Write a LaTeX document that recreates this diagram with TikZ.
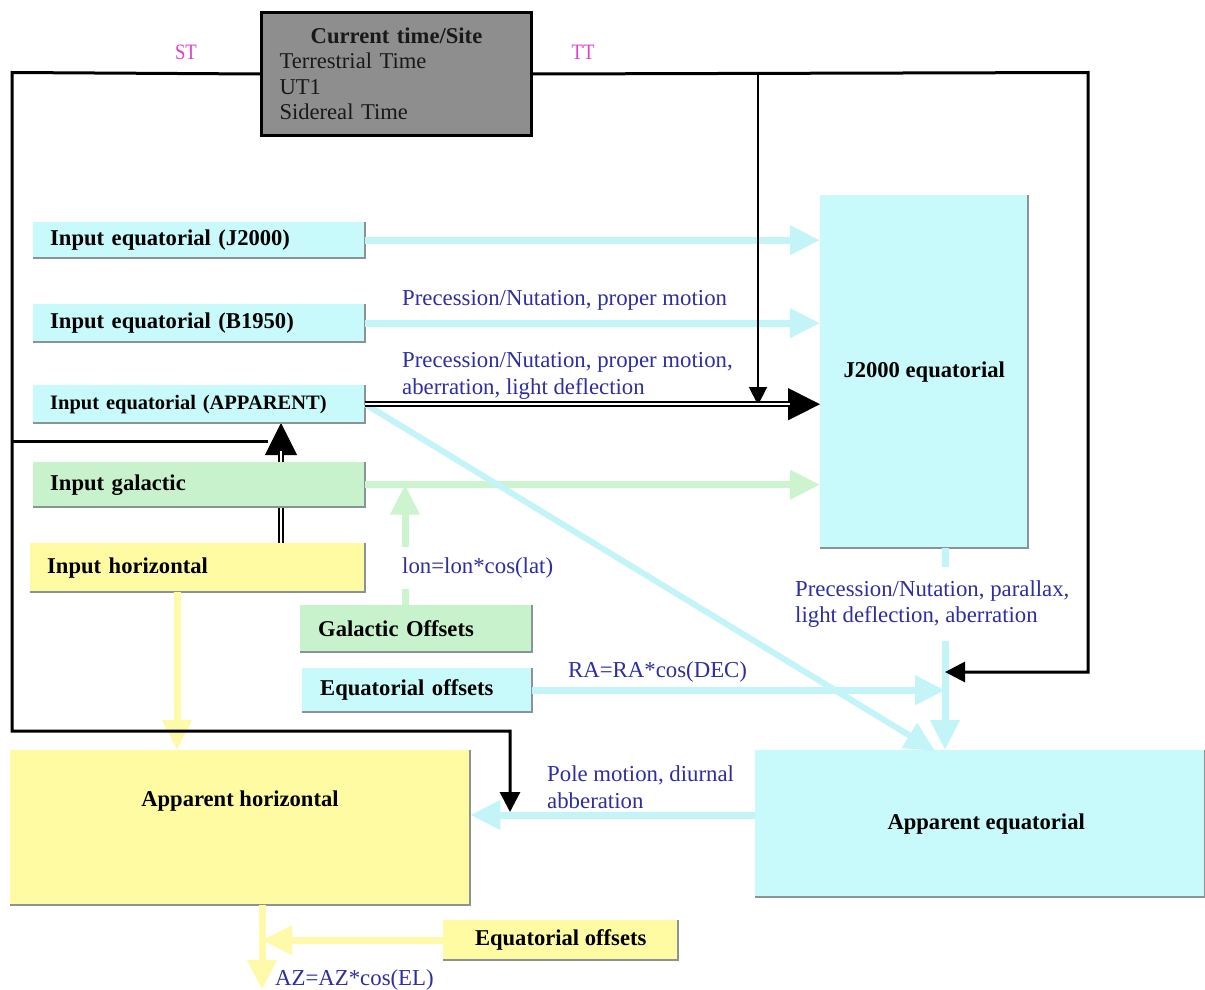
\documentclass[tikz,border=0pt]{standalone}
\usepackage{graphicx}
\usepackage{fontspec}
\setmainfont{Liberation Serif}
\usetikzlibrary{arrows.meta}
\definecolor{boxcyan}{HTML}{C8F9FB}
\definecolor{arrcyan}{HTML}{C2F4F8}
\definecolor{boxgreen}{HTML}{C8F2CC}
\definecolor{arrgreen}{HTML}{CCF4CF}
\definecolor{boxyellow}{HTML}{FFFBA3}
\definecolor{arryellow}{HTML}{FFFAAA}
\definecolor{boxgray}{HTML}{8E8E8E}
\definecolor{edgegray}{HTML}{8A9494}
\definecolor{lblblue}{HTML}{2E2EA0}
\definecolor{lblmag}{HTML}{E040C8}
\tikzset{
  box/.style={inner sep=0pt, anchor=north west, font=\fontsize{22.6}{26}\selectfont\bfseries},
  cbox/.style={box, fill=boxcyan},
  gbox/.style={box, fill=boxgreen},
  ybox/.style={box, fill=boxyellow},
  lbox/.style={text width=#1, inner xsep=17pt, align=left},
  edgeline/.style={draw=edgegray, line width=2pt},
  fat/.style={line width=7pt, -{Triangle[length=30pt,width=28pt]}},
  fatcyan/.style={fat, draw=arrcyan},
  fatgreen/.style={fat, draw=arrgreen},
  fatyellow/.style={fat, draw=arryellow},
  lbl/.style={text=lblblue, font=\fontsize{22.8}{26.5}\selectfont, inner sep=0pt, align=left},
  maglbl/.style={text=lblmag, font=\fontsize{22}{24}\selectfont, inner sep=0pt},
  blk/.style={draw=black, line width=3pt},
  blktip/.style={-{Triangle[length=20pt,width=20pt]}},
  dbl/.style={draw=black, double=white, line width=1.6pt, double distance=2.4pt},
  bigtip/.style={draw=black, line width=1pt, -{Triangle[length=32pt,width=32pt]}},
}
\begin{document}
\begin{tikzpicture}[x=1pt, y=-1pt]
\useasboundingbox (0,0) rectangle (1205,990);
\fill[white] (0,0) rectangle (1205,990);

% helper coordinates
\coordinate (dx) at (281,0);
\coordinate (gx) at (405,0);
\coordinate (vx) at (945,0);
\coordinate (yx) at (177,0);
\coordinate (zx) at (262,0);

% --- Input horizontal -> Input apparent (double black, behind boxes)
\coordinate (dblStart) at (281,543);
\coordinate (dblEnd) at (281,423);
\draw[bigtip] (dblStart) -- (dblEnd);
\draw[dbl, shorten >=28pt] (dblStart) -- (dblEnd);

% --- boxes
\node[box, draw=black, line width=3pt, fill=boxgray, minimum height=123pt,
      text width=234pt, inner xsep=18pt, align=left,
      font=\fontsize{22.6}{25.5}\selectfont, text=black!90] (cur) at (260,11)
  {\makebox[234pt][c]{\bfseries Current time/Site}\\Terrestrial Time\\UT1\\Sidereal Time};

\node[cbox, lbox=298pt, minimum height=36pt] (j2in) at (33,222) {Input equatorial (J2000)};
\node[cbox, lbox=298pt, minimum height=38pt] (b1950) at (33,304) {Input equatorial (B1950)};
\node[cbox, lbox=298pt, minimum height=38pt, font=\fontsize{20.5}{24}\selectfont\bfseries] (appin) at (33,385) {Input equatorial (APPARENT)};
\node[gbox, lbox=298pt, minimum height=45pt] (galin) at (33,462) {Input galactic};
\node[ybox, lbox=301pt, minimum height=49pt] (horin) at (30,543) {Input horizontal};
\node[gbox, lbox=196pt, inner xsep=18pt, minimum height=47pt] (galoff) at (300,605) {Galactic Offsets};
\node[cbox, lbox=194pt, inner xsep=18pt, minimum height=44pt] (eqoff) at (302,668) {Equatorial offsets};
\node[cbox, minimum width=208pt, minimum height=353pt] (j2eq) at (820,195) {J2000 equatorial};
\node[cbox, minimum width=450pt, minimum height=147pt] (appeq) at (755,750) {\hspace*{12pt}Apparent equatorial};
\node[ybox, minimum width=460pt, minimum height=155pt] (apphor) at (10,750) {};
\node[box, anchor=center] (apphortxt) at (240,801) {Apparent horizontal};
\node[ybox, minimum width=235pt, minimum height=40pt] (eqoff2) at (443,920) {Equatorial offsets};

\foreach \n in {j2in,b1950,appin,galin,horin,galoff,eqoff,j2eq,appeq,apphor,eqoff2}
  \draw[edgeline] (\n.north east) -- (\n.south east) -- (\n.south west);

% --- light arrows
\draw[fatcyan] (j2in.east) -- (j2in.east -| j2eq.west);
\draw[fatcyan] (b1950.east) -- (b1950.east -| j2eq.west);
\draw[fatgreen] (galin.east) -- (galin.east -| j2eq.west);
\coordinate (diagEnd) at (935,751);
\draw[fatcyan, line width=6pt] (appin.east) -- (diagEnd);
\draw[fatgreen] (galoff.north -| gx) -- (gx |- galin.east);
\draw[fatcyan] (eqoff.east) -- (eqoff.east -| vx);
\draw[fatcyan] (j2eq.south -| vx) -- (appeq.north -| vx);
\draw[fatyellow] (horin.south -| yx) -- (apphor.north -| yx);
\draw[fatcyan] (appeq.west |- 0,815) -- (apphor.east |- 0,815);
\coordinate (zEnd) at (262,990);
\draw[fatyellow] (apphor.south -| zx) -- (zEnd);
\draw[fatyellow] (eqoff2.west) -- (eqoff2.west -| zx);

% --- labels
\node[maglbl] (st) at (186,52) {\scalebox{0.85}[1]{ST}};
\node[maglbl] (tt) at (583,52) {\scalebox{0.85}[1]{TT}};
\node[lbl, anchor=west] (l1) at (402,300) {Precession/Nutation, proper motion};
\node[lbl, anchor=west] (l2) at (402,376) {Precession/Nutation, proper motion,\\aberration, light deflection};
\node[lbl, anchor=west, fill=white, inner ysep=13pt] (l3) at (795,604) {Precession/Nutation, parallax,\\light deflection, aberration};
\node[lbl, anchor=west, fill=white, inner xsep=2pt, inner ysep=11pt] (l4) at (400,568) {lon=lon*cos(lat)};
\node[lbl, anchor=west] (l5) at (568,672) {RA=RA*cos(DEC)};
\node[lbl, anchor=west] (l6) at (547,787) {Pole motion, diurnal\\abberation};
\node[lbl, anchor=west] (l7) at (275,980) {AZ=AZ*cos(EL)};

% --- black connectors
\coordinate (stA) at (12,72.5);
\coordinate (stB) at (12,441);
\coordinate (stC) at (12,731);
\coordinate (stD) at (510,731);
\coordinate (stE) at (510,812);
\coordinate (stF) at (268,441);
\draw[blk, blktip] (cur.west) -- (stA) -- (stC) -- (stD) -- (stE);
\draw[blk] (stB) -- (stF);

\coordinate (ttA) at (1088,72.5);
\coordinate (ttB) at (1088,672);
\coordinate (ttC) at (945,672);
\coordinate (ttD) at (758,72.5);
\coordinate (ttE) at (758,405);
\draw[blk, blktip] (cur.east) -- (ttA) -- (ttB) -- (ttC);
\draw[draw=black, line width=2pt, -{Triangle[length=18pt,width=18pt]}] (ttD) -- (ttE);

% --- Input apparent -> J2000 equatorial (double black)
\draw[bigtip] (appin.east) -- (appin.east -| j2eq.west);
\draw[dbl, shorten >=30pt] (appin.east) -- (appin.east -| j2eq.west);
\end{tikzpicture}
\end{document}
